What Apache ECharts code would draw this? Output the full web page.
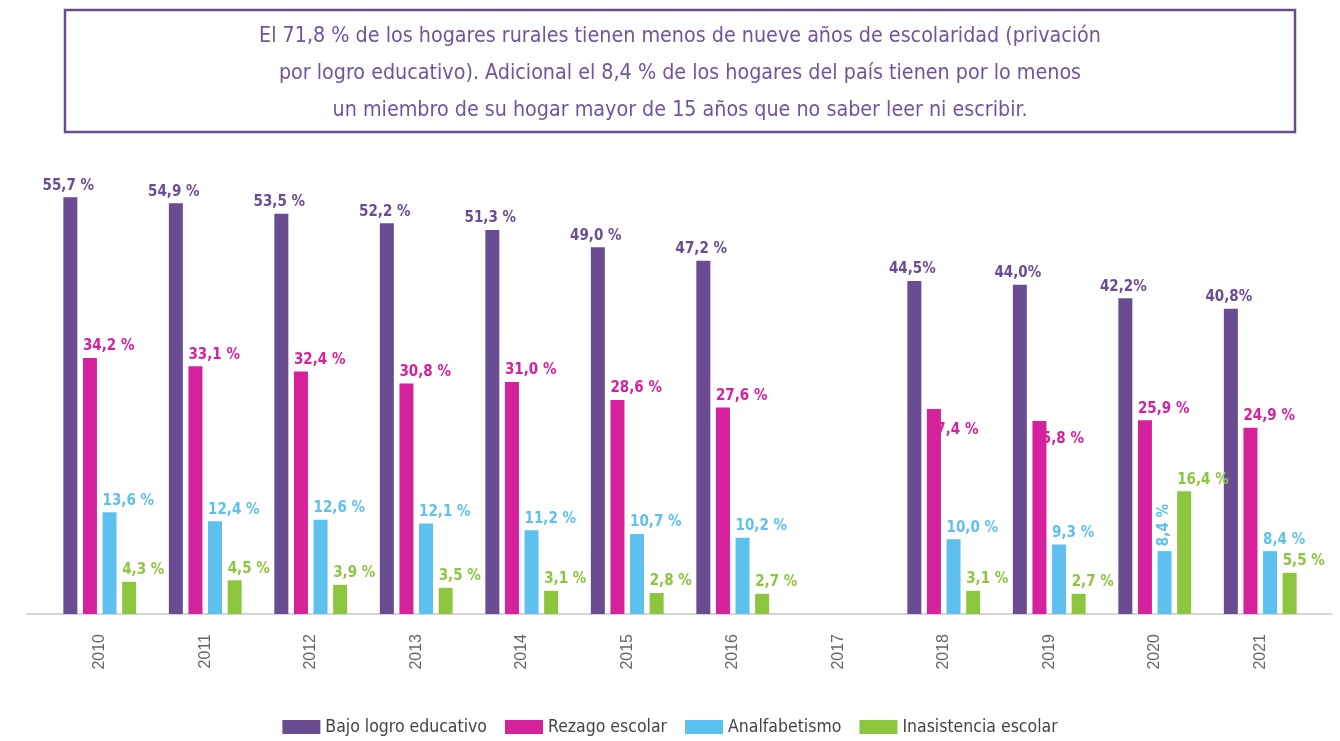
<!DOCTYPE html>
<html>
<head>
<meta charset="utf-8">
<script src="https://cdn.jsdelivr.net/npm/echarts@6/dist/echarts.min.js"></script>
<style>
  html, body { margin: 0; padding: 0; background: #fff; }
  #chart { width: 1340px; height: 741px; }
</style>
</head>
<body>
<div id="chart"></div>
<script>
const years = ['2010', '2011', '2012', '2013', '2014', '2015', '2016', '2017', '2018', '2019', '2020', '2021']
const bajoLogro = [55.7, 54.9, 53.5, 52.2, 51.3, 49.0, 47.2, null, 44.5, 44.0, 42.2, 40.8]
const rezago = [34.2, 33.1, 32.4, 30.8, 31.0, 28.6, 27.6, null, 27.4, 25.8, 25.9, 24.9]
const analfabetismo = [13.6, 12.4, 12.6, 12.1, 11.2, 10.7, 10.2, null, 10.0, 9.3, 8.4, 8.4]
const inasistencia = [4.3, 4.5, 3.9, 3.5, 3.1, 2.8, 2.7, null, 3.1, 2.7, 16.4, 5.5]
const seriesNames = ['Bajo logro educativo', 'Rezago escolar', 'Analfabetismo', 'Inasistencia escolar']
const colors = ['#6a4c93', '#d6219c', '#5ec0ee', '#8cc63f']

const titleLines = [
  'El 71,8 % de los hogares rurales tienen menos de nueve años de escolaridad (privación',
  'por logro educativo). Adicional el 8,4 % de los hogares del país tienen por lo menos',
  'un miembro de su hogar mayor de 15 años que no saber leer ni escribir.'
]

const labelFont = '"DejaVu Sans Condensed", "DejaVu Sans", sans-serif'
const fmt = (v, space) => v.toFixed(1).replace('.', ',') + (space ? ' %' : '%')

const chart = echarts.init(document.getElementById('chart'))

// bajo logro: centred labels, newer years written without the space
const bajoData = bajoLogro.map((v, i) => ({
  value: v,
  label: { formatter: v == null ? '' : fmt(v, i < 7) }
}))

// rezago 2018/2019 labels sit lower, overlapping the bar
const rezagoData = rezago.map((v, i) => {
  const item = { value: v }
  if (i === 8) item.label = { offset: [-7, 33] }
  if (i === 9) item.label = { offset: [-7, 30] }
  return item
})

// analfabetismo 2020 label is rotated
const analData = analfabetismo.map((v, i) => {
  const item = { value: v }
  if (i === 10) item.label = { rotate: 90, align: 'left', verticalAlign: 'middle', offset: [0, 0], distance: 5 }
  return item
})

const sideLabel = {
  show: true,
  position: 'top',
  align: 'left',
  offset: [-7, 0],
  distance: 4,
  fontFamily: labelFont,
  fontWeight: 'bold',
  fontSize: 15,
  formatter: p => p.value == null ? '' : fmt(p.value, true)
}

const makeSeries = (name, data, color, label) => ({
  name,
  type: 'bar',
  data,
  barWidth: 14,
  barGap: '40%',
  itemStyle: { color },
  label: Object.assign({}, sideLabel, { color }, label || {})
})

chart.setOption({
  animation: false,
  color: colors,
  graphic: [
    {
      type: 'rect',
      shape: { x: 65, y: 10, width: 1230, height: 122 },
      style: { fill: '#fff', stroke: '#6a4c93', lineWidth: 2.5 }
    },
    {
      type: 'text',
      x: 680,
      y: 73,
      style: {
        text: titleLines.join('\n'),
        fill: '#71559b',
        font: '21.3px "DejaVu Sans Condensed", sans-serif',
        align: 'center',
        verticalAlign: 'middle',
        lineHeight: 37
      }
    }
  ],
  legend: {
    top: 713,
    left: 'center',
    itemWidth: 38,
    itemHeight: 14,
    itemGap: 18,
    icon: 'rect',
    data: seriesNames,
    textStyle: {
      color: '#444',
      fontSize: 17.5,
      fontFamily: '"DejaVu Sans Condensed", sans-serif'
    }
  },
  grid: [
    { left: 47, right: 27, top: 165, bottom: 127 },
    { left: 27, right: 8, top: 165, bottom: 127 }
  ],
  xAxis: [
    {
      type: 'category',
      gridIndex: 0,
      data: years,
      axisLine: { show: false },
      axisTick: { show: false },
      axisLabel: {
        rotate: 90,
        margin: 20,
        color: '#666',
        fontSize: 16,
        fontFamily: 'Liberation Sans, Arial, sans-serif'
      }
    },
    {
      type: 'value',
      gridIndex: 1,
      min: 0,
      max: 1,
      axisLine: { show: true, lineStyle: { color: '#c8c8c8', width: 1.5 } },
      axisTick: { show: false },
      axisLabel: { show: false },
      splitLine: { show: false }
    }
  ],
  yAxis: [
    { type: 'value', gridIndex: 0, min: 0, max: 60, show: false },
    { type: 'value', gridIndex: 1, min: 0, max: 1, show: false }
  ],
  series: [
    makeSeries(seriesNames[0], bajoData, colors[0], { align: 'center', offset: [-2, 0] }),
    makeSeries(seriesNames[1], rezagoData, colors[1]),
    makeSeries(seriesNames[2], analData, colors[2]),
    makeSeries(seriesNames[3], inasistencia, colors[3])
  ]
})

window.addEventListener('resize', () => chart.resize())
</script>
</body>
</html>
